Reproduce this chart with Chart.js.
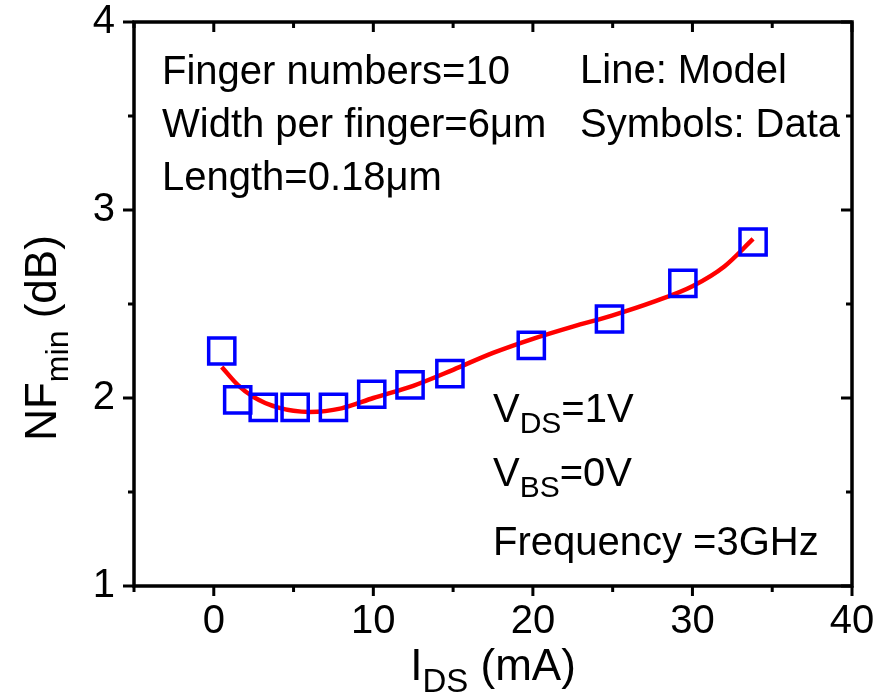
<!DOCTYPE html>
<html>
<head>
<meta charset="utf-8">
<script src="https://cdn.jsdelivr.net/npm/chart.js@4"></script>
<style>
  body { margin: 0; background: #fff; }
  canvas { display: block; }
</style>
</head>
<body>
<canvas id="nfChart" width="886" height="697"></canvas>
<script>
// measured data (squares)
const idsData = [0.5, 1.5, 3.1, 5.1, 7.5, 9.9, 12.3, 14.8, 19.9, 24.8, 29.4, 33.8];
const nfData = [2.25, 1.99, 1.95, 1.95, 1.95, 2.02, 2.07, 2.13, 2.28, 2.42, 2.61, 2.83];

// model curve (red line)
const idsModel = [0.5, 1.5, 2.5, 4, 6, 8, 10, 12.5, 15, 17.5, 20, 22.5, 25, 27.5, 30, 32, 33.8];
const nfModel = [2.165, 2.07, 2.005, 1.95, 1.926, 1.945, 2.0, 2.065, 2.15, 2.24, 2.315, 2.38, 2.44, 2.51, 2.595, 2.70, 2.846];

// axis ticks
const xTicks = [-5, 0, 5, 10, 15, 20, 25, 30, 35, 40];
const xLabels = [0, 10, 20, 30, 40];
const yTicks = [1, 1.5, 2, 2.5, 3, 3.5, 4];
const yLabels = [1, 2, 3, 4];

const FONT = '"Liberation Sans", Arial, sans-serif';

function toPoints(xs, ys) {
    return xs.map((x, i) => ({ x: x, y: ys[i] }));
}

// draws text pieces in a row, some of them as subscripts
function drawRich(ctx, parts, x, y, size, subSize, drop, align) {
    let total = 0;
    parts.forEach(p => {
        ctx.font = (p.sub ? subSize : size) + 'px ' + FONT;
        p.w = ctx.measureText(p.t).width;
        total += p.w;
    });
    let cx = align === 'center' ? x - total / 2 : x;
    parts.forEach(p => {
        ctx.font = (p.sub ? subSize : size) + 'px ' + FONT;
        ctx.fillText(p.t, cx, p.sub ? y + drop : y);
        cx += p.w;
    });
}

const framePlugin = {
    id: 'frame',
    afterDraw(chart) {
        const ctx = chart.ctx;
        const a = chart.chartArea;
        const xs = chart.scales.x;
        const ys = chart.scales.y;
        ctx.save();
        ctx.strokeStyle = '#000';
        ctx.lineWidth = 3.5;
        ctx.strokeRect(a.left, a.top, a.right - a.left, a.bottom - a.top);

        ctx.lineWidth = 3;
        ctx.beginPath();
        xTicks.forEach(v => {
            const px = xs.getPixelForValue(v);
            const len = v % 10 === 0 ? 10 : 6;
            ctx.moveTo(px, a.bottom); ctx.lineTo(px, a.bottom + len);
            ctx.moveTo(px, a.top); ctx.lineTo(px, a.top + len);
        });
        yTicks.forEach(v => {
            const py = ys.getPixelForValue(v);
            const len = v % 1 === 0 ? 11 : 6;
            ctx.moveTo(a.left, py); ctx.lineTo(a.left - len, py);
            ctx.moveTo(a.right, py); ctx.lineTo(a.right - len, py);
        });
        ctx.stroke();

        // annotations
        ctx.fillStyle = '#000';
        ctx.textBaseline = 'alphabetic';
        ctx.textAlign = 'left';
        ctx.font = '40px ' + FONT;
        ctx.fillText('Finger numbers=10', 162, 84);
        ctx.fillText('Width per finger=6\u03bcm', 162, 137);
        ctx.fillText('Length=0.18\u03bcm', 162, 190);
        ctx.fillText('Line: Model', 580, 83);
        ctx.fillText('Symbols: Data', 580, 137);

        drawRich(ctx, [{ t: 'V' }, { t: 'DS', sub: true }, { t: '=1V' }], 493, 422, 40, 30, 11);
        drawRich(ctx, [{ t: 'V' }, { t: 'BS', sub: true }, { t: '=0V' }], 493, 486, 40, 30, 11);
        ctx.font = '40px ' + FONT;
        ctx.fillText('Frequency =3GHz', 493, 555);

        // axis titles
        drawRich(ctx, [{ t: 'I' }, { t: 'DS', sub: true }, { t: ' (mA)' }],
            (a.left + a.right) / 2, 680, 44, 33, 12, 'center');

        ctx.translate(56, 338);
        ctx.rotate(-Math.PI / 2);
        drawRich(ctx, [{ t: 'NF' }, { t: 'min', sub: true }, { t: ' (dB)' }],
            0, 0, 44, 32, 12, 'center');
        ctx.restore();
    }
};

const ctx = document.getElementById('nfChart').getContext('2d');

new Chart(ctx, {
    type: 'scatter',
    data: {
        datasets: [
            {
                label: 'Model',
                data: toPoints(idsModel, nfModel),
                showLine: true,
                borderColor: '#ff0000',
                borderWidth: 4.5,
                pointRadius: 0,
                cubicInterpolationMode: 'monotone',
                order: 2
            },
            {
                label: 'Data',
                data: toPoints(idsData, nfData),
                showLine: false,
                pointStyle: 'rect',
                pointRadius: 18.5,
                borderColor: '#0000ff',
                backgroundColor: 'rgba(0,0,0,0)',
                pointBorderWidth: 3.5,
                order: 1
            }
        ]
    },
    options: {
        responsive: false,
        devicePixelRatio: 1,
        animation: false,
        events: [],
        layout: { padding: { left: 0, top: 22, right: 34, bottom: 0 } },
        plugins: {
            legend: { display: false },
            tooltip: { enabled: false }
        },
        scales: {
            x: {
                type: 'linear',
                min: -5,
                max: 40,
                afterBuildTicks: s => { s.ticks = xLabels.map(v => ({ value: v })); },
                ticks: {
                    color: '#000',
                    font: { family: FONT, size: 40 },
                    padding: 12,
                    maxRotation: 0
                },
                grid: { display: false, drawTicks: false },
                border: { display: false },
                afterFit: s => {
                    s.height = 111;
                    s.paddingLeft = 0;
                    s.paddingRight = 0;
                }
            },
            y: {
                min: 1,
                max: 4,
                afterBuildTicks: s => { s.ticks = yLabels.map(v => ({ value: v })); },
                ticks: {
                    color: '#000',
                    font: { family: FONT, size: 40 },
                    padding: 19
                },
                grid: { display: false, drawTicks: false },
                border: { display: false },
                afterFit: s => {
                    s.width = 134;
                    s.paddingTop = 0;
                    s.paddingBottom = 0;
                }
            }
        }
    },
    plugins: [framePlugin]
});
</script>
</body>
</html>
